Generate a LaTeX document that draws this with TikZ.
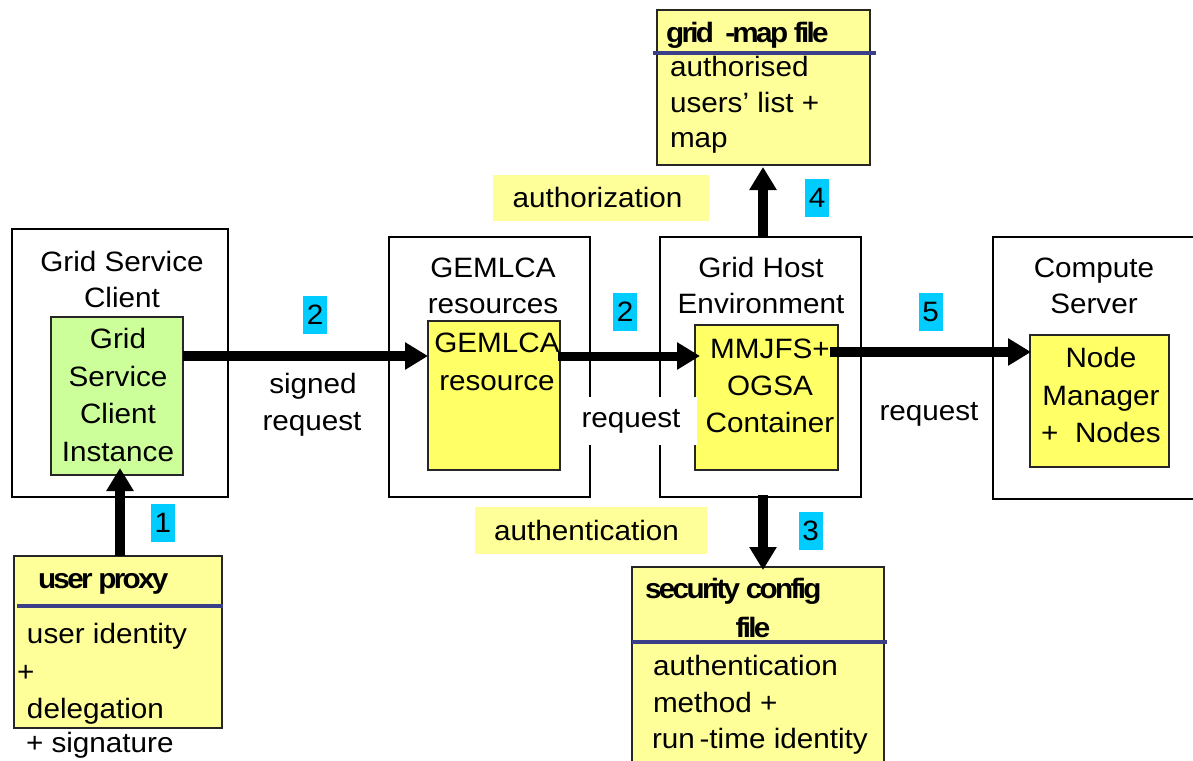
\documentclass[tikz,border=0pt]{standalone}
\usepackage{fontspec}
\setmainfont{Liberation Sans}[FakeStretch=1.06]
\newfontfamily\tightbold{Liberation Sans}[FakeStretch=1.06,LetterSpace=-9.5]
\usetikzlibrary{arrows.meta}

\definecolor{paleyellow}{HTML}{FFFF99}
\definecolor{richyellow}{HTML}{FFFF66}
\definecolor{palegreen}{HTML}{CCFF99}
\definecolor{stepcyan}{HTML}{00CCFF}
\definecolor{rulenavy}{HTML}{3B3F8A}

\begin{document}
\begin{tikzpicture}[x=1pt,y=-1pt,
  every node/.style={font=\fontsize{28}{36}\selectfont, inner sep=0pt, outer sep=0pt},
  frame/.style={draw=black, line width=1.6pt},
  inner/.style={draw=black!85, line width=1.8pt, fill=richyellow},
  filebox/.style={draw=black!85, line width=1.8pt, fill=paleyellow},
  line/.style={anchor=base},
  lline/.style={anchor=base west},
  title/.style={anchor=base west, font=\fontsize{28}{36}\tightbold\bfseries},
  stepnum/.style={fill=stepcyan, minimum width=24pt, minimum height=38pt},
  tag/.style={fill=paleyellow},
  flow/.style={line width=10pt, -{Triangle[width=26pt,length=23pt]}},
  divider/.style={draw=rulenavy, line width=4pt},
]
\useasboundingbox (0,0) rectangle (1193,760);
\clip (0,0) rectangle (1193,760);

% ---------- outer containers ----------
\node[frame, minimum width=216pt, minimum height=268pt] (gsc)  at (120,363) {};
\node[frame, minimum width=201pt, minimum height=260pt] (gres) at (489.5,367) {};
\node[frame, minimum width=201pt, minimum height=260pt] (ghe)  at (760.5,367) {};
\node[frame, minimum width=217pt, minimum height=262pt] (cs)   at (1101.5,368) {};

\foreach \t/\y [count=\i] in {Grid Service/271, Client/307}
  \node[line] (gsct\i) at (122,\y) {\t};
\foreach \t/\y [count=\i] in {GEMLCA/277, resources/313}
  \node[line] (grest\i) at (493,\y) {\t};
\foreach \t/\y [count=\i] in {Grid Host/277, Environment/313}
  \node[line] (ghet\i) at (761,\y) {\t};
\foreach \t/\y [count=\i] in {Compute/277, Server/313}
  \node[line] (cst\i) at (1094,\y) {\t};

% ---------- inner components ----------
\node[draw=black!85, line width=1.8pt, fill=palegreen, minimum width=132pt, minimum height=158pt] (gsci) at (117,396) {};
\node[inner, minimum width=132pt, minimum height=149pt] (gresi) at (494,395.5) {};
\node[inner, minimum width=143pt, minimum height=145pt] (mmjfs) at (766.5,397.5) {};
\node[inner, minimum width=139pt, minimum height=132pt] (nm) at (1099.5,401) {};

\foreach \t/\y [count=\i] in {Grid/348, Service/386, Client/423, Instance/461}
  \node[line] (gscit\i) at (118,\y) {\t};
\foreach \t/\y [count=\i] in {GEMLCA/352, resource/390}
  \node[line] (gresit\i) at (497,\y) {\t};
\foreach \t/\y [count=\i] in {MMJFS+/358, OGSA/395, Container/432}
  \node[line] (mmjfst\i) at (770,\y) {\t};
\foreach \t/\y [count=\i] in {Node/367, Manager/405, {+\ \ Nodes}/442}
  \node[line] (nmt\i) at (1101,\y) {\t};

% ---------- credential files ----------
\node[filebox, minimum width=208pt, minimum height=172pt] (proxy) at (118,642) {};
\draw[divider] (17,606) -- (223,606);
\node[title] (proxyt) at (38,588) {user proxy};
\node[lline] (proxy1) at (27,643) {user identity};
\node[lline] (proxy2) at (17,681) {+};
\node[lline] (proxy3) at (27,718) {delegation};
\node[lline] (proxy4) at (26,752) {+ signature};

\node[filebox, minimum width=213pt, minimum height=155pt] (gridmap) at (763.5,87.5) {};
\draw[divider] (653,53) -- (876,53);
\node[title] (gridmapt) at (666,42) {grid\ \ -map file};
\node[lline] (gridmap1) at (670,77) {authorised};
\node[lline] (gridmap2) at (670,112) {users’ list +};
\node[lline] (gridmap3) at (670,147) {map};

\node[filebox, minimum width=252pt, minimum height=233pt] (seccfg) at (758,683.5) {};
\draw[divider] (632,642) -- (887,642);
\node[title] (seccfgt1) at (645,598) {security config};
\node[line, font=\fontsize{28}{36}\tightbold\bfseries] (seccfgt2) at (753,637) {file};
\node[lline] (seccfg1) at (653,675) {authentication};
\node[lline] (seccfg2) at (653,712) {method +};
\node[lline] (seccfg3) at (652,748) {run\,-time identity};

% ---------- flows ----------
\draw[flow] ([xshift=2pt]proxy.north) -- ([xshift=3pt,yshift=7pt]gsci.south);
\draw[flow] ([yshift=40pt]gsci.east) -- ([yshift=39.5pt]gresi.west);
\draw[flow, line width=9pt] ([xshift=-2pt,yshift=39.5pt]gresi.east) -- ([xshift=5pt,yshift=41.5pt]mmjfs.west);
\draw[flow] ([xshift=-8pt,yshift=45.5pt]mmjfs.east) -- ([xshift=1pt,yshift=49pt]nm.west);
\draw[flow] ([xshift=2.5pt]ghe.north) -- ([xshift=-0.5pt,yshift=-2pt]gridmap.south);
\draw[flow] ([xshift=2.5pt,yshift=2pt]ghe.south) -- ([xshift=5pt,yshift=-3pt]seccfg.north);

% ---------- flow labels ----------
\node[stepnum] (s1) at (163,523) {1};
\node[stepnum] (s2a) at (315,315) {2};
\node[stepnum] (s2b) at (625,311.5) {2};
\node[stepnum] (s5) at (930.5,312) {5};
\node[stepnum] (s4) at (817,198) {4};
\node[stepnum] (s3) at (810.5,531) {3};

\node[line] (sig1) at (313,393) {signed};
\node[line] (sig2) at (312,430) {request};

\fill[white] (584,397) rectangle (697,445);
\node[line] (req1) at (631,427) {request};
\node[line] (req2) at (929,420) {request};

\node[tag, minimum width=216pt, minimum height=46pt] (authz) at (601,198) {};
\node[line] (authzt) at (597.5,207) {authorization};
\node[tag, minimum width=232pt, minimum height=47pt] (authn) at (591,530.5) {};
\node[line] (authnt) at (586.5,540) {authentication};
\end{tikzpicture}
\end{document}
